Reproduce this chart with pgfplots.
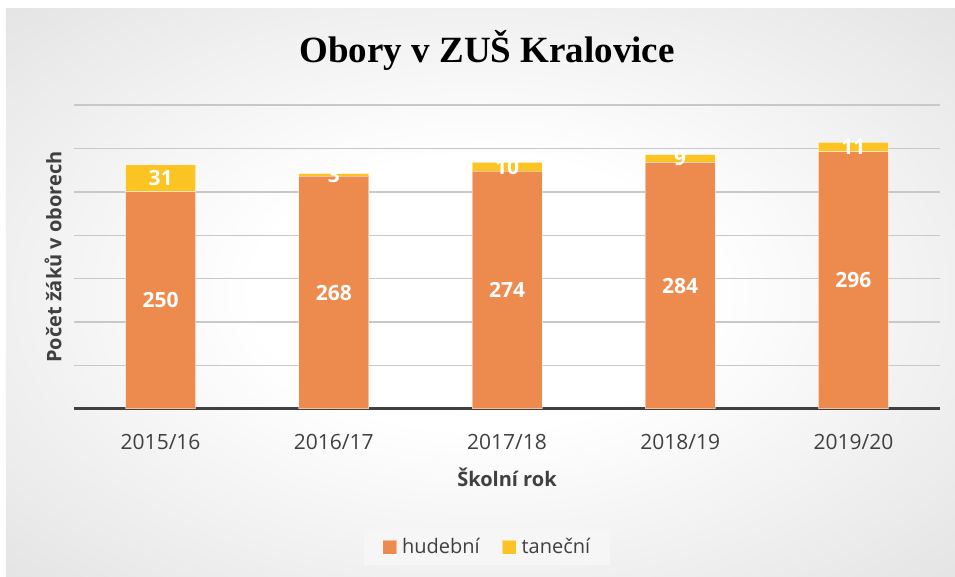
\documentclass[border=0pt]{standalone}
\usepackage{pgfplots}
\usepackage{pgfplotstable}
\pgfplotsset{compat=1.18}
\usepackage{fontspec}
\setmainfont{Open Sans}
\newfontfamily\titlefont{Liberation Serif}
\definecolor{orangeF}{RGB}{237,139,79}
\definecolor{yellowF}{RGB}{251,196,35}
\definecolor{txt}{RGB}{64,64,64}
\definecolor{gridc}{RGB}{200,200,200}
\definecolor{legbg}{RGB}{246,246,246}
\pgfdeclareradialshading{bgshade}{\pgfpoint{0bp}{0bp}}{color(0bp)=(white); color(12bp)=(white); color(50bp)=(white!83!black); color(71bp)=(white!77!black)}

\pgfplotstableread{
x h t
0 250 31
1 268 3
2 274 10
3 284 9
4 296 11
}\data

\begin{document}
\begin{tikzpicture}[x=1bp,y=1bp]
\fill[white] (-74,-168) rectangle (881,409);
\shade[shading=bgshade] (-68,-168) rectangle (881,400);
\begin{axis}[
  at={(0,0)}, anchor=south west,
  scale only axis, width=866bp, height=304bp,
  xmin=-0.5, xmax=4.5, ymin=0, ymax=350,
  ybar stacked, bar width=70bp,
  axis line style={draw=none},
  xtick=data, xticklabels={2015/16,2016/17,2017/18,2018/19,2019/20},
  xtick style={draw=none},
  ytick={50,100,...,350}, yticklabels={}, ytick style={draw=none},
  ymajorgrids, grid style={gridc, line width=1.5bp},
  extra y ticks={0}, extra y tick labels={},
  extra y tick style={grid style={txt, line width=3bp}, tick style={draw=none}},
  xticklabel style={font=\fontsize{21bp}{25bp}\selectfont, text=txt, anchor=center, yshift=-33bp},
  title={Obory v ZUŠ Kralovice},
  title style={at={(axis description cs:0.477,1.16)}, anchor=center, font=\titlefont\bfseries\fontsize{37bp}{40bp}\selectfont, text=black},
  xlabel={Školní rok},
  xlabel style={at={(axis description cs:0.5,-0.224)}, anchor=center, font=\bfseries\fontsize{20bp}{24bp}\selectfont, text=txt},
  ylabel={Počet žáků v oborech},
  ylabel style={at={(axis description cs:-0.024,0.5)}, anchor=center, font=\bfseries\fontsize{20bp}{24bp}\selectfont, text=txt},
  legend columns=2,
  legend style={at={(axis description cs:0.477,-0.454)}, anchor=center, draw=none, fill=legbg, text=txt, font=\fontsize{20bp}{24bp}\selectfont, inner xsep=18bp, inner ysep=8bp,
    /tikz/every odd column/.append style={column sep=3bp},
    /tikz/every even column/.append style={column sep=20bp}},
  legend image code/.code={\fill[#1] (0bp,-7bp) rectangle (14bp,7bp);},
  nodes near coords={\pgfmathprintnumber[assume math mode=true]{\pgfplotspointmeta}},
  point meta=explicit,
  every node near coord/.append style={anchor=center, font=\bfseries\fontsize{21bp}{25bp}\selectfont, text=white},
]
\addplot[fill=orangeF, draw=white, draw opacity=0.45, line width=1bp]
  table[x=x, y=h, meta=h] {\data};
\addlegendentry{hudební}
\addplot[fill=yellowF, draw=white, draw opacity=0.45, line width=1bp]
  table[x=x, y=t, meta=t] {\data};
\addlegendentry{taneční}
\end{axis}
\end{tikzpicture}
\end{document}
